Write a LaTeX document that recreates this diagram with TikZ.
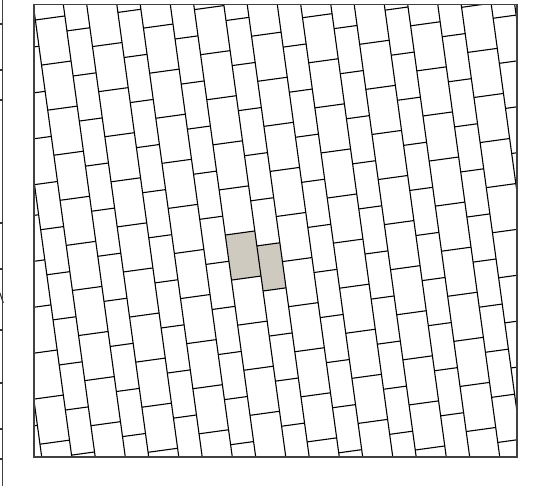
\documentclass[tikz,border=0pt]{standalone}
\definecolor{tileshade}{RGB}{206,202,192}
\tikzset{
  tileline/.style={line width=1.1pt, draw=black},
  frameline/.style={line width=1.3pt, draw=black!75},
  tickline/.style={line width=1.1pt, draw=black!80}
}
\begin{document}
\begin{tikzpicture}[x=1pt,y=-1pt]
\useasboundingbox (0,0) rectangle (539,488);
% left neighbouring panel edge
\draw[frameline] (2.7,0) -- (2.7,486);
\foreach \t in {24,70,100,223,269,330,383,429,459}{
  \draw[tickline] (0,\t) -- (2.7,\t);
}
\draw[tickline] (0,293) -- (3.3,303);
% main tiling
\begin{scope}
\clip (34,4.7) rectangle (517,457);
\begin{scope}[shift={(225.3,235)}]
\begin{scope}[x={(0.99075pt,0.13572pt)},y={(0.13572pt,-0.99075pt)}]
\fill[tileshade] (0,0) -- (29.8,0) -- (29.8,45.5) -- (0,45.5) -- cycle;
\fill[tileshade] (29.8,15.1) -- (53,15.1) -- (53,60.6) -- (29.8,60.6) -- cycle;
\foreach \k in {-5,...,6}{
  \draw[tileline] ({53*\k},-420) -- ({53*\k},420);
  \draw[tileline] ({53*\k+29.8},-420) -- ({53*\k+29.8},420);
  \foreach \m in {-15,...,15}{
    \draw[tileline] ({53*\k},{34.1*\k+45.5*\m}) -- ({53*\k+29.8},{34.1*\k+45.5*\m});
    \draw[tileline] ({53*\k+29.8},{34.1*\k+15.1+45.5*\m}) -- ({53*\k+53},{34.1*\k+15.1+45.5*\m});
  }
}
\end{scope}
\end{scope}
\end{scope}
\draw[frameline] (34,4.7) rectangle (517,457);
\end{tikzpicture}
\end{document}
